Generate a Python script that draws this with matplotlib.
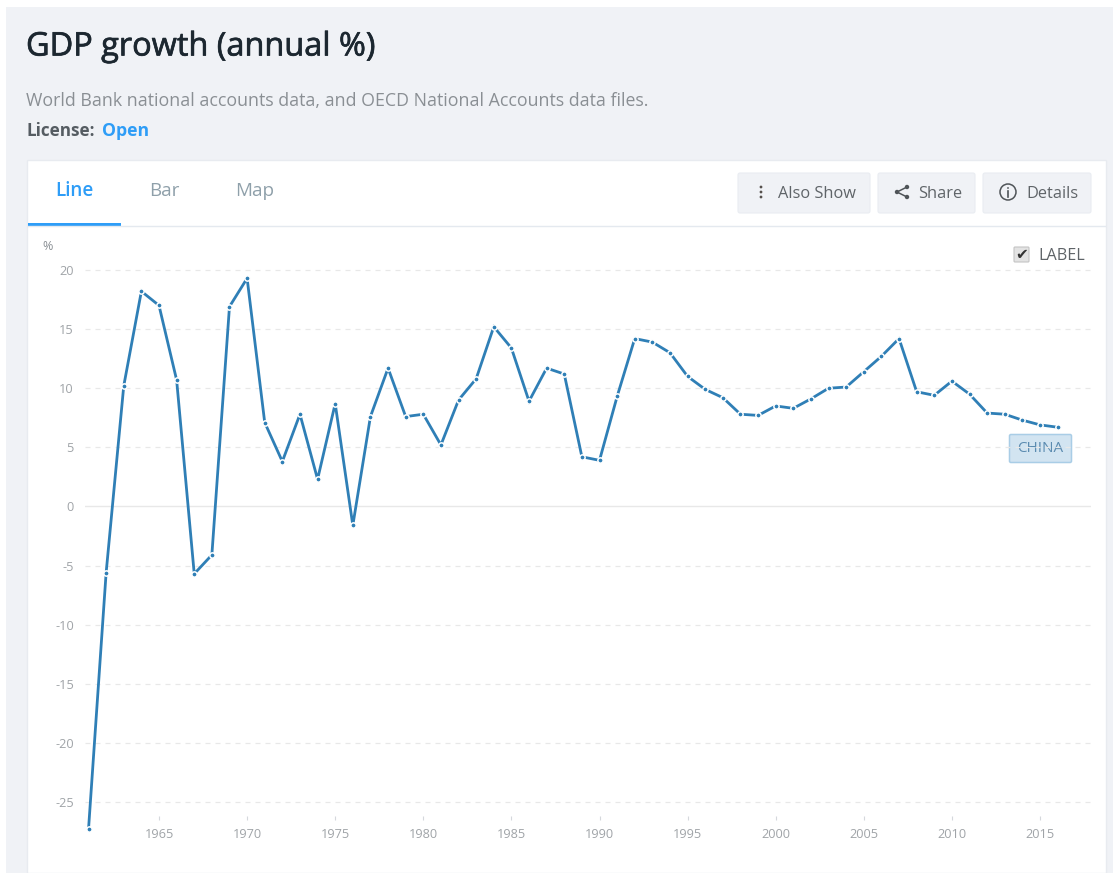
import matplotlib
matplotlib.use("Agg")
import matplotlib.pyplot as plt
import matplotlib.patheffects as pe
from matplotlib.patches import Rectangle, FancyBboxPatch, Circle

plt.rcParams["font.family"] = ["Open Sans", "DejaVu Sans"]

years = list(range(1961, 2017))
growth = [-27.3, -5.6, 10.2, 18.2, 17.0, 10.7, -5.7, -4.1, 16.9, 19.3,
          7.1, 3.8, 7.8, 2.3, 8.7, -1.6, 7.6, 11.7, 7.6, 7.8,
          5.2, 9.0, 10.8, 15.2, 13.4, 8.9, 11.7, 11.2, 4.2, 3.9,
          9.3, 14.2, 13.9, 13.0, 11.0, 9.9, 9.2, 7.8, 7.7, 8.5,
          8.3, 9.1, 10.0, 10.1, 11.4, 12.7, 14.2, 9.7, 9.4, 10.6,
          9.5, 7.9, 7.8, 7.3, 6.9, 6.7]
x_ticks = [1965, 1970, 1975, 1980, 1985, 1990, 1995, 2000, 2005, 2010, 2015]
y_ticks = [20, 15, 10, 5, 0, -5, -10, -15, -20, -25]
tabs = ["Line", "Bar", "Map"]

W, H = 1113, 873
PAGE = "#f0f2f6"
BLUE = "#2e9df7"
LINE = "#2f7fb6"

fig = plt.figure(figsize=(W / 100, H / 100), dpi=100, facecolor="white")

# page furniture in pixel coordinates
ui = fig.add_axes([0, 0, 1, 1])
ui.set_xlim(0, W)
ui.set_ylim(H, 0)
ui.axis("off")

ui.add_patch(Rectangle((6, 7), W - 6, H - 7, fc=PAGE, ec="none"))
ui.add_patch(Rectangle((27, 160), 1079, H - 160, fc="white", ec="#e8ebf0", lw=1))
ui.plot([28, 1105], [225.5, 225.5], color="#e4e9ef", lw=1)
ui.add_patch(Rectangle((28, 223), 93, 2.5, fc=BLUE, ec="none"))

title = ui.text(26, 47, "GDP growth (annual %)", fontsize=23.4, color="#1c2730", va="center")
title.set_path_effects([pe.withStroke(linewidth=0.5, foreground="#1c2730")])
ui.text(26, 101, "World Bank national accounts data, and OECD National Accounts data files.",
        fontsize=12.8, color="#8a8f94", va="center")
ui.text(26, 131, "License:", fontsize=12.3, color="#555c62", weight="bold", va="center")
ui.text(102, 131, "Open", fontsize=12.7, color=BLUE, weight="bold", va="center")

for name, tx in zip(tabs, [55, 149, 235]):
    ui.text(tx, 190.5, name, fontsize=13.6, va="center", weight=600 if name == "Line" else 400,
            color=BLUE if name == "Line" else "#8fa0aa")

# buttons
for bx, bw in [(738, 132), (878, 97), (983, 108)]:
    ui.add_patch(FancyBboxPatch((bx + 2, 175), bw - 4, 36, boxstyle="round,pad=2",
                                fc=PAGE, ec="#e9ecf1", lw=0.8))
ui.text(778, 193.5, "Also Show", fontsize=11.8, color="#5f6468", va="center")
ui.text(918, 193.5, "Share", fontsize=11.8, color="#5f6468", va="center")
ui.text(1026, 193.5, "Details", fontsize=11.8, color="#5f6468", va="center")

# button icons
for dot_y in [187, 192, 197]:
    ui.add_patch(Circle((761, dot_y), 1.4, fc="#55504c", ec="none"))
ui.plot([907, 897, 907], [187, 192, 197], color="#4f5458", lw=1.1)
for sx, sy in [(907, 187), (897, 192), (907, 197)]:
    ui.add_patch(Circle((sx, sy), 2.2, fc="#4f5458", ec="none"))
ui.add_patch(Circle((1008, 192), 8, fc="none", ec="#4f5458", lw=1.1))
ui.plot([1008, 1008], [191, 196.5], color="#4f5458", lw=1.2)
ui.add_patch(Circle((1008, 188), 0.9, fc="#4f5458", ec="none"))

# LABEL checkbox
ui.add_patch(FancyBboxPatch((1015, 248), 13, 13, boxstyle="round,pad=1",
                            fc="#e3e3e3", ec="#c4c4c4", lw=0.8))
ui.text(1021.5, 254.5, "\u2714", fontsize=11, color="#333333", ha="center", va="center",
        family="DejaVu Sans")
ui.text(1038, 255.5, "LABEL", fontsize=11.6, color="#5f6468", va="center")

ui.text(42, 247, "%", fontsize=9, color="#8a8f94", va="center")

# chart area, placed so the ticks land on the reference pixels
px_left, px_right, px_top, px_bottom = 85, 1091, 262, 816
x_per_px = (2015 - 1965) / (1040 - 159)
y_per_px = 45 / (802 - 270)
ax = fig.add_axes([px_left / W, 1 - px_bottom / H,
                   (px_right - px_left) / W, (px_bottom - px_top) / H])
ax.patch.set_alpha(0)
ax.set_xlim(1965 + (px_left - 159) * x_per_px, 1965 + (px_right - 159) * x_per_px)
ax.set_ylim(20 - (px_bottom - 270) * y_per_px, 20 + (270 - px_top) * y_per_px)

for side in ax.spines.values():
    side.set_visible(False)

ax.set_xticks(x_ticks)
ax.set_yticks(y_ticks)
ax.tick_params(axis="x", length=3, width=0.8, color="#d5d8dc", labelcolor="#a0a4a8",
               labelsize=9.2, pad=6)
ax.tick_params(axis="y", length=0, labelcolor="#a0a4a8", labelsize=9.2, pad=8)
ax.set_yticklabels([str(v) for v in y_ticks])

for v in y_ticks:
    if v == 0:
        ax.axhline(v, color="#e8e8e8", lw=1, zorder=1)
    else:
        ax.axhline(v, color="#e8e8e8", lw=0.9, ls=(0, (4, 4)), zorder=1)

ax.plot(years, growth, color=LINE, lw=2.0, zorder=3, clip_on=False,
        marker="o", markersize=3.8, markerfacecolor=LINE,
        markeredgecolor="white", markeredgewidth=1.1, solid_joinstyle="miter")

# series label
ui.set_zorder(0)
ax.set_zorder(1)
ui.add_patch(FancyBboxPatch((1011, 436), 59, 25, boxstyle="round,pad=1.5",
                            fc="#d2e4f1", ec="#a9cde6", lw=1.1, zorder=5))
ui.text(1040.5, 449, "CHINA", fontsize=11, color="#5b8bb0", ha="center", va="center", zorder=6)

fig.savefig("out.png", dpi=100)
